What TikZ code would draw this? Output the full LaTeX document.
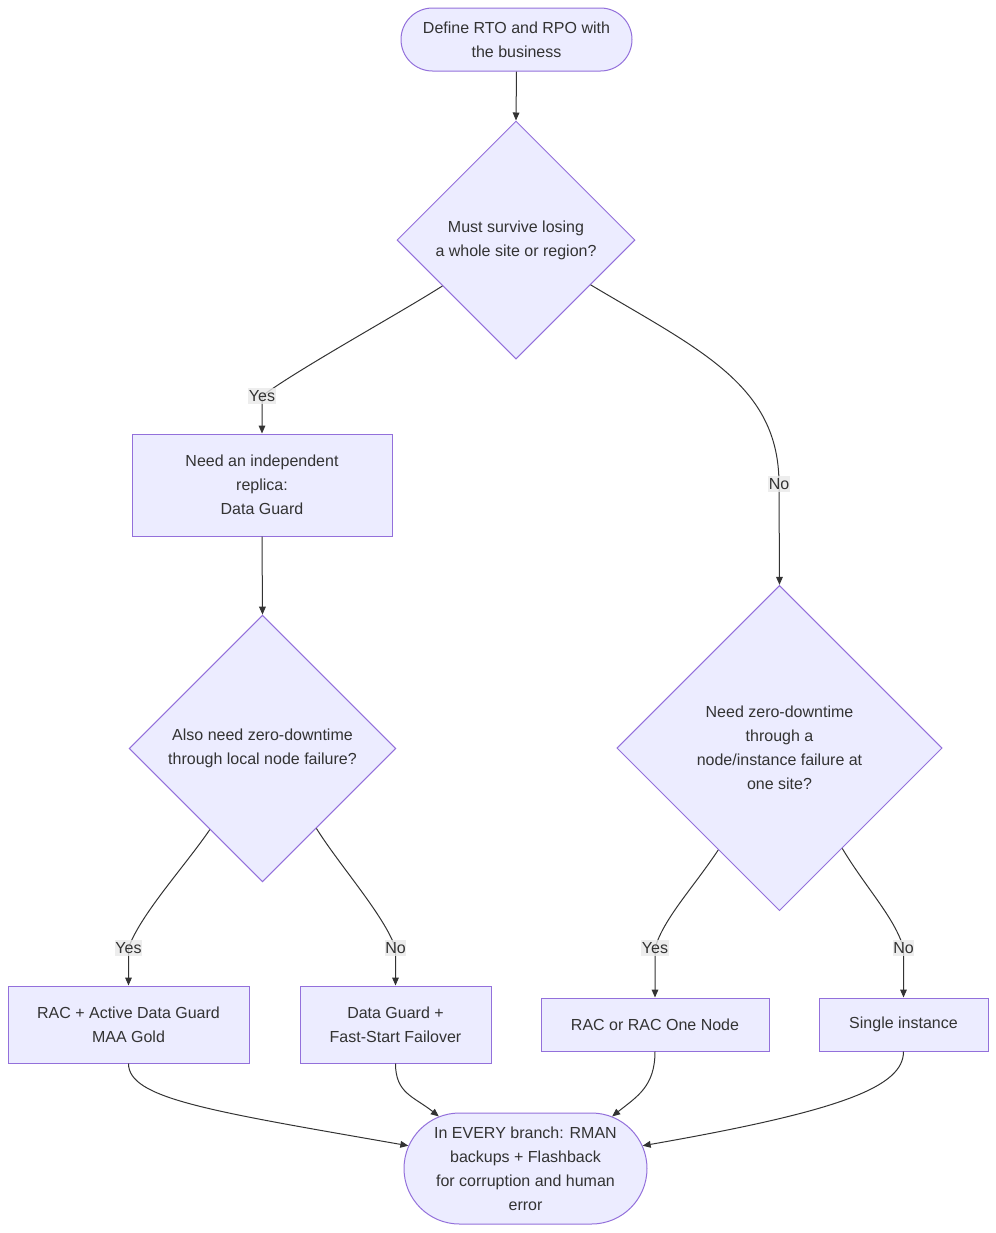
\documentclass[tikz,border=0pt]{standalone}
\usepackage{fontspec}
\setmainfont{Liberation Sans}
\usetikzlibrary{shapes.geometric,shapes.misc,arrows.meta}
\definecolor{nfill}{HTML}{ECECFF}
\definecolor{nstroke}{HTML}{9370DB}
\definecolor{ntext}{HTML}{333333}
\definecolor{lblbg}{HTML}{E8E8E8}
\begin{document}
\begin{tikzpicture}[x=0.75pt,y=-0.75pt,
 base/.style={fill=nfill,draw=nstroke,line width=0.75pt,text=ntext,font=\fontsize{12}{18}\selectfont,align=center},
 stadium/.style={base,rounded rectangle,inner sep=0pt},
 box/.style={base,rectangle,inner sep=0pt},
 decision/.style={base,diamond,aspect=1,inner sep=0pt},
 arr/.style={draw=ntext,line width=0.75pt,-{Triangle[length=6pt,width=5pt]}},
 lbl/.style={fill=lblbg,fill opacity=0.8,text opacity=1,text=ntext,font=\fontsize{12}{14}\selectfont,inner xsep=0.5pt,inner ysep=2pt}]
\useasboundingbox (0,0) rectangle (996,1233);

% nodes
\node[stadium,minimum width=173.25pt,minimum height=47.25pt] (start) at (516.5,39.5) {Define RTO and RPO with\\the business};
\node[decision,minimum width=178.5pt,minimum height=178.5pt] (d1) at (516,240) {Must survive losing\\a whole site or region?};
\node[box,minimum width=195pt,minimum height=76.5pt] (a) at (262,485) {Need an independent\\replica:\\Data Guard};
\node[decision,minimum width=200pt,minimum height=200pt] (d2) at (262.5,748.5) {Also need zero-downtime\\through local node failure?};
\node[decision,minimum width=244pt,minimum height=244pt] (d3) at (779.5,748) {Need zero-downtime\\through a\\node/instance failure at\\one site?};
\node[box,minimum width=180.75pt,minimum height=57.75pt] (rag) at (128.5,1024.5) {RAC + Active Data Guard\\MAA Gold};
\node[box,minimum width=143.25pt,minimum height=57.75pt] (dgf) at (395.5,1024.5) {Data Guard +\\Fast-Start Failover};
\node[box,minimum width=171pt,minimum height=39.75pt] (ro) at (655,1024.5) {RAC or RAC One Node};
\node[box,minimum width=126.75pt,minimum height=39.75pt] (si) at (903.5,1024.5) {Single instance};
\node[stadium,minimum width=182.25pt,minimum height=83.25pt] (fin) at (525.5,1168.5) {In EVERY branch: RMAN\\backups + Flashback\\for corruption and human\\error};

% label positions
\coordinate (l1) at (262,396);
\coordinate (l2) at (779,484);
\coordinate (l3) at (128.5,948);
\coordinate (l4) at (395.5,948);
\coordinate (l5) at (655,948);
\coordinate (l6) at (903.5,948);

% edges
\draw[arr] (start.south) -- (d1.north);
\draw[arr] (d1.212) .. controls (400,313) and (300,368) .. (l1) -- (a.north);
\draw[arr] (d1.-31) .. controls (700,350) and (779,385) .. (l2) -- (d3.north);
\draw[arr] (a.south) -- (d2.north);
\draw[arr] (d2.237) .. controls (185,866) and (140,915) .. (l3) -- (rag.north);
\draw[arr] (d2.-56) .. controls (340,866) and (384,915) .. (l4) -- (dgf.north);
\draw[arr] (d3.239) .. controls (693,888) and (664,918) .. (l5) -- (ro.north);
\draw[arr] (d3.-58) .. controls (866,888) and (895,918) .. (l6) -- (si.north);
\draw[arr] (rag.south) .. controls +(0,35) and +(-200,-35) .. (fin.169);
\draw[arr] (dgf.south) .. controls +(0,30) and +(-25,-20) .. (fin.149);
\draw[arr] (ro.south) .. controls +(0,35) and +(25,-20) .. (fin.31);
\draw[arr] (si.south) .. controls +(0,35) and +(200,-35) .. (fin.11);

% labels
\node[lbl] (t1) at (l1) {Yes};
\node[lbl] (t2) at (l2) {No};
\node[lbl] (t3) at (l3) {Yes};
\node[lbl] (t4) at (l4) {No};
\node[lbl] (t5) at (l5) {Yes};
\node[lbl] (t6) at (l6) {No};
\end{tikzpicture}
\end{document}
